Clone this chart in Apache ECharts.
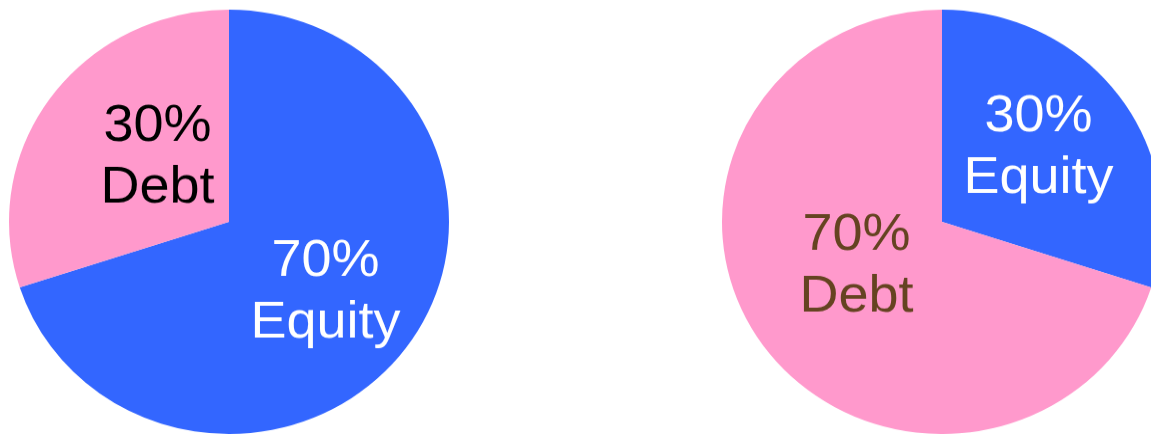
<!DOCTYPE html>
<html>
<head>
<meta charset="utf-8">
<script src="https://cdn.jsdelivr.net/npm/echarts@6/dist/echarts.min.js"></script>
<style>
html,body{margin:0;padding:0;background:#fff;overflow:hidden;width:1151px;height:434px;}
#wrap{width:1151px;height:434px;overflow:hidden;}
#chart{width:1151px;height:450px;transform:scaleY(0.9644);transform-origin:0 0;}
</style>
</head>
<body>
<div id="wrap"><div id="chart"></div></div>
<script>
const categories = ['Equity', 'Debt'];
const leftValues = [70, 30];
const rightValues = [30, 70];

const BLUE = '#3366FF', PINK = '#FF99CC';
const leftLabelColors = ['#ffffff', '#000000'];
const rightLabelColors = ['#ffffff', '#654321'];

const sy = 0.9644;
const shifts = [
  [[5, 6], [20, 0]],
  [[5, -10], [6, -20]]
];

function buildData(values, labelColors) {
  return categories.map((c, i) => ({
    name: c,
    value: values[i],
    itemStyle: { color: i === 0 ? BLUE : PINK },
    label: { color: labelColors[i] }
  }));
}

function pieSeries(values, labelColors, cx, idx) {
  return {
    type: 'pie',
    center: [cx, 230],
    radius: [0, 220],
    startAngle: 90,
    clockwise: true,
    silent: true,
    animation: false,
    label: {
      show: true,
      position: 'inside',
      formatter: '{c}%\n{b}',
      fontFamily: 'Liberation Sans, Arial, sans-serif',
      fontSize: 54,
      lineHeight: 64
    },
    labelLine: { show: false },
    labelLayout: function (p) {
      const s = shifts[idx][p.dataIndex];
      return { dx: s[0], dy: s[1] / sy };
    },
    itemStyle: { borderWidth: 0 },
    data: buildData(values, labelColors)
  };
}

const chart = echarts.init(document.getElementById('chart'), null, { renderer: 'canvas' });
chart.setOption({
  animation: false,
  backgroundColor: '#ffffff',
  series: [
    pieSeries(leftValues, leftLabelColors, 229, 0),
    pieSeries(rightValues, rightLabelColors, 942, 1)
  ]
});
</script>
</body>
</html>
